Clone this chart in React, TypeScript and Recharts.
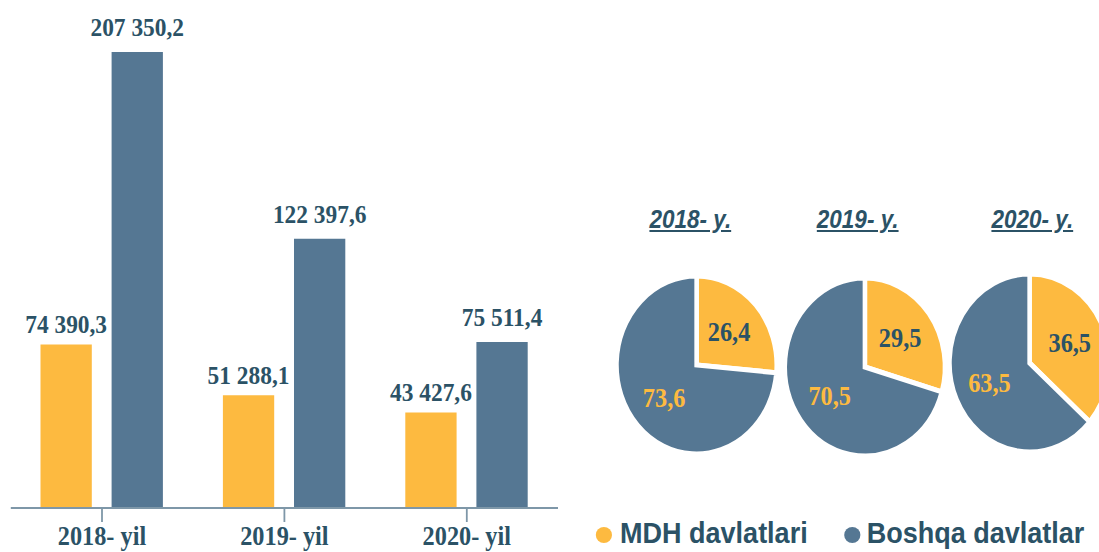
import React from 'react';
import { BarChart, Bar, XAxis, YAxis, LabelList, PieChart, Pie, Cell } from 'recharts';

// bar chart data (thousand USD)
const years = ['2018- yil', '2019- yil', '2020- yil'];
const mdhValues = [74390.3, 51288.1, 43427.6];
const otherValues = [207350.2, 122397.6, 75511.4];

// pie chart data (share, %)
const pieTitles = ['2018- y.', '2019- y.', '2020- y.'];
const mdhShares = [26.4, 29.5, 36.5];
const otherShares = [73.6, 70.5, 63.5];

const seriesNames = ['MDH davlatlari', 'Boshqa davlatlar'];

const COLORS = {
  yellow: '#FDBA40',
  blue: '#557793',
  text: '#2B5266',
  axis: '#7E97A8'
};

// the reference is squeezed horizontally, so the whole drawing is scaled on x
const SQUEEZE = 0.9;
const W = 1099 / SQUEEZE;
const H = 552;

const barData = years.map((year, i) => ({
  year,
  mdh: mdhValues[i],
  other: otherValues[i]
}));

const pieData = pieTitles.map((title, i) => ({
  title,
  slices: [
    { name: seriesNames[0], value: mdhShares[i] },
    { name: seriesNames[1], value: otherShares[i] }
  ]
}));

const fmtValue = (v: number) => {
  const [int, dec] = v.toFixed(1).split('.');
  return int.replace(/\B(?=(\d{3})+(?!\d))/g, ' ') + ',' + dec;
};

const fmtShare = (v: number) => v.toFixed(1).replace('.', ',');

const RADIAN = Math.PI / 180;
const serif = '"Liberation Serif", "Times New Roman", serif';
const sans = '"Liberation Sans", Arial, sans-serif';

const barLabel = (gap: number) => (props: any) => {
  const { x, y, width, value } = props;
  return (
    <text
      x={Number(x) + Number(width) / 2}
      y={Number(y) - gap}
      textAnchor="middle"
      fill={COLORS.text}
      fontFamily={serif}
      fontWeight="bold"
      fontSize={26}
    >
      {fmtValue(Number(value))}
    </text>
  );
};

const renderPieLabel = (props: any) => {
  const { cx, cy, midAngle, outerRadius, index, value } = props;
  const r = outerRadius * 0.55;
  const x = cx + r * Math.cos(-midAngle * RADIAN);
  const y = cy + r * Math.sin(-midAngle * RADIAN);
  return (
    <text
      x={x}
      y={y}
      fill={index === 0 ? COLORS.text : COLORS.yellow}
      textAnchor="middle"
      dominantBaseline="central"
      fontFamily={serif}
      fontWeight="bold"
      fontSize={27}
    >
      {fmtShare(value)}
    </text>
  );
};

// pie centres and title centres in the unscaled space
const PIE_LEFT = 620;
const pieCenters = [
  { cx: 154, cy: 365 },
  { cx: 341, cy: 367 },
  { cx: 524, cy: 363 }
];
const titleCenters = [767, 953, 1147];

export default function App() {
  return (
    <div style={{ position: 'absolute', left: 0, top: 0, width: 1099, height: H, overflow: 'hidden', background: '#fff' }}>
      <div
        style={{
          position: 'absolute',
          left: 0,
          top: 0,
          width: W,
          height: H,
          transform: `scaleX(${SQUEEZE})`,
          transformOrigin: '0 0'
        }}
      >
        {/* Bars */}
        <div style={{ position: 'absolute', left: 0, top: 0 }}>
          <BarChart
            width={PIE_LEFT}
            height={H}
            data={barData}
            margin={{ top: 52, right: 0, left: 12, bottom: 0 }}
            barGap={22}
          >
            <XAxis
              dataKey="year"
              height={44}
              tickSize={14}
              tickMargin={4}
              axisLine={{ stroke: COLORS.axis, strokeWidth: 2 }}
              tickLine={{ stroke: COLORS.axis, strokeWidth: 2 }}
              tick={{ fill: COLORS.text, fontFamily: serif, fontWeight: 'bold', fontSize: 27 }}
              interval={0}
            />
            <YAxis hide domain={[0, 'dataMax']} />
            <Bar dataKey="mdh" name={seriesNames[0]} fill={COLORS.yellow} barSize={57} isAnimationActive={false}>
              <LabelList dataKey="mdh" content={barLabel(11)} />
            </Bar>
            <Bar dataKey="other" name={seriesNames[1]} fill={COLORS.blue} barSize={57} isAnimationActive={false}>
              <LabelList dataKey="other" content={barLabel(16)} />
            </Bar>
          </BarChart>
        </div>

        {/* Pie titles */}
        {pieData.map((p, i) => (
          <div
            key={p.title}
            style={{
              position: 'absolute',
              left: titleCenters[i] - 80,
              width: 160,
              top: 207,
              textAlign: 'center',
              fontFamily: sans,
              fontWeight: 'bold',
              fontStyle: 'italic',
              fontSize: 25,
              lineHeight: '25px',
              color: COLORS.text,
              textDecoration: 'underline'
            }}
          >
            {p.title}
          </div>
        ))}

        {/* Pies */}
        <div style={{ position: 'absolute', left: PIE_LEFT, top: 0 }}>
          <PieChart width={W - PIE_LEFT + 20} height={H} margin={{ top: 0, right: 0, left: 0, bottom: 0 }}>
            {pieData.map((p, i) => (
              <Pie
                key={p.title}
                data={p.slices}
                dataKey="value"
                nameKey="name"
                cx={pieCenters[i].cx}
                cy={pieCenters[i].cy}
                outerRadius={89}
                startAngle={90}
                endAngle={-270}
                stroke="#fff"
                strokeWidth={5}
                labelLine={false}
                label={renderPieLabel}
                isAnimationActive={false}
              >
                {p.slices.map((s, j) => (
                  <Cell key={s.name} fill={j === 0 ? COLORS.yellow : COLORS.blue} />
                ))}
              </Pie>
            ))}
          </PieChart>
        </div>

        {/* Legend */}
        {[
          { name: seriesNames[0], color: COLORS.yellow, dot: 671, text: 689 },
          { name: seriesNames[1], color: COLORS.blue, dot: 947, text: 963 }
        ].map((item) => (
          <React.Fragment key={item.name}>
            <div
              style={{
                position: 'absolute',
                left: item.dot - 9,
                top: 527,
                width: 18,
                height: 16,
                borderRadius: '50%',
                background: item.color
              }}
            />
            <div
              style={{
                position: 'absolute',
                left: item.text,
                top: 518,
                fontFamily: sans,
                fontWeight: 'bold',
                fontSize: 30,
                lineHeight: '30px',
                color: COLORS.text,
                whiteSpace: 'nowrap'
              }}
            >
              {item.name}
            </div>
          </React.Fragment>
        ))}
      </div>
    </div>
  );
}
